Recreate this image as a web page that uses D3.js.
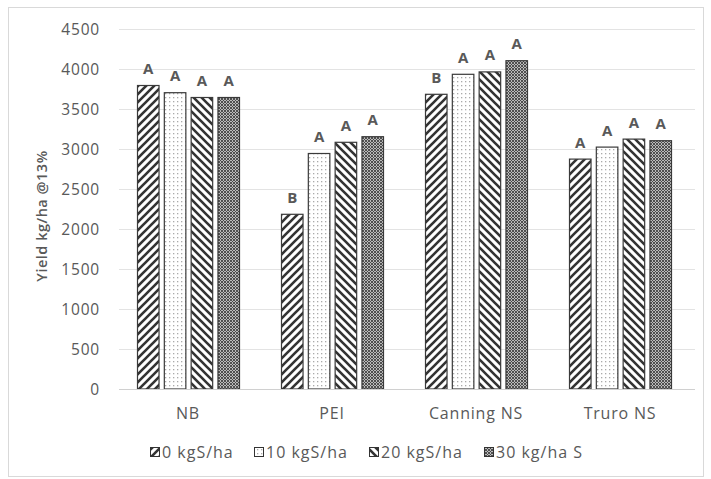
<!DOCTYPE html>
<html><head><meta charset="utf-8">
<script src="https://cdn.jsdelivr.net/npm/d3@7"></script>
<style>body{margin:0;background:#fff;}svg{display:block;}</style>
</head><body>
<svg id="c" width="711" height="479"></svg>
<script>
const categories = ["NB", "PEI", "Canning NS", "Truro NS"];
const seriesNames = ["0 kgS/ha", "10 kgS/ha", "20 kgS/ha", "30 kg/ha S"];
const s0 = [3800, 2190, 3690, 2880];
const s1 = [3710, 2950, 3940, 3030];
const s2 = [3650, 3090, 3970, 3130];
const s3 = [3650, 3160, 4110, 3110];
const letters0 = ["A", "B", "B", "A"];
const letters1 = ["A", "A", "A", "A"];
const letters2 = ["A", "A", "A", "A"];
const letters3 = ["A", "A", "A", "A"];
const yTicks = [0, 500, 1000, 1500, 2000, 2500, 3000, 3500, 4000, 4500];

const series = [s0, s1, s2, s3];
const letters = [letters0, letters1, letters2, letters3];

const svg = d3.select("#c");
const font = "'Open Sans', Lato, sans-serif";
const grey = "#595959";

// border
svg.append("rect").attr("x", 8.5).attr("y", 7.5).attr("width", 695).attr("height", 469)
  .attr("fill", "#fff").attr("stroke", "#d9d9d9");

// patterns
const defs = svg.append("defs");
function pat(id, size, build, bg) {
  const p = defs.append("pattern").attr("id", id).attr("patternUnits", "userSpaceOnUse")
    .attr("width", size).attr("height", size);
  p.append("rect").attr("width", size).attr("height", size).attr("fill", bg || "#fff");
  build(p);
}
pat("p0", 8, p => {
  p.append("path").attr("d", "M-2,2 L2,-2 M0,8 L8,0 M6,10 L10,6").attr("stroke", "#333").attr("stroke-width", 2.6);
});
pat("p1", 4, p => {
  p.append("rect").attr("x", 1).attr("y", 1).attr("width", 1.3).attr("height", 1.3).attr("fill", "#aaa");
}, "#fff");
pat("p2", 8, p => {
  p.append("path").attr("d", "M-2,6 L2,10 M0,0 L8,8 M6,-2 L10,2").attr("stroke", "#333").attr("stroke-width", 2.6);
});
pat("p3", 3, p => {
  p.append("path").attr("d", "M0,0 L3,3 M3,0 L0,3").attr("stroke", "#444").attr("stroke-width", 0.9);
}, "#bbb");

const x = d3.scaleBand().domain(categories).range([116, 692]);
const xs = d3.scaleBand().domain(d3.range(4)).range([21, 124]).paddingInner(0.16);
const y = d3.scaleLinear().domain([0, 4500]).range([389, 29]);

// gridlines
svg.append("g").selectAll("line").data(yTicks.slice(1)).join("line")
  .attr("x1", 119).attr("x2", 695).attr("y1", d => Math.round(y(d)) + 0.5).attr("y2", d => Math.round(y(d)) + 0.5)
  .attr("stroke", "#e3e3e3").attr("stroke-width", 1.2);

// y axis labels
const yAxis = d3.axisLeft(y).tickValues(yTicks).tickFormat(d3.format("d")).tickSize(0).tickPadding(0);
const ya = svg.append("g").attr("transform", "translate(100,0)").call(yAxis);
ya.select(".domain").remove();
ya.selectAll("text").attr("font-family", font).attr("font-size", 15.5).attr("letter-spacing", 0.8)
  .attr("fill", grey).attr("dy", "0.35em");

// bars
const g = svg.append("g");
series.forEach((vals, si) => {
  g.selectAll(".b" + si).data(categories).join("rect")
    .attr("x", c => x(c) + xs(si) + 0.5)
    .attr("y", (c, i) => y(vals[i]) + 0.5)
    .attr("width", xs.bandwidth() - 1)
    .attr("height", (c, i) => y(0) - y(vals[i]) - 0.5)
    .attr("fill", "url(#p" + si + ")")
    .attr("stroke", "#3a3a3a").attr("stroke-width", 1.2);
  g.selectAll(".l" + si).data(categories).join("text")
    .attr("x", c => x(c) + xs(si) + xs.bandwidth() / 2)
    .attr("y", (c, i) => y(vals[i]) - 11)
    .attr("text-anchor", "middle")
    .attr("font-family", font).attr("font-size", 15).attr("font-weight", "bold").attr("fill", grey)
    .text((c, i) => letters[si][i]);
});

// baseline
svg.append("line").attr("x1", 119).attr("x2", 695).attr("y1", 389.5).attr("y2", 389.5)
  .attr("stroke", "#d0d0d0").attr("stroke-width", 1.2);

// x axis labels
const xAxis = d3.axisBottom(x).tickSize(0).tickPadding(0);
const xa = svg.append("g").attr("transform", "translate(0,408)").call(xAxis);
xa.select(".domain").remove();
xa.selectAll("text").attr("font-family", font).attr("font-size", 16).attr("letter-spacing", 0.8)
  .attr("fill", grey).attr("dy", "0.71em");

// y title
svg.append("text").attr("transform", "translate(47,216) rotate(-90)")
  .attr("text-anchor", "middle").attr("font-family", font).attr("font-size", 14.5).attr("font-weight", 600)
  .attr("letter-spacing", 0.5).attr("fill", grey).text("Yield kg/ha @13%");

// legend
const legX = [150, 254, 369, 484];
const lg = svg.append("g");
seriesNames.forEach((n, i) => {
  lg.append("rect").attr("x", legX[i] + 0.5).attr("y", 447.5).attr("width", 9).attr("height", 9)
    .attr("fill", "url(#p" + i + ")").attr("stroke", "#333").attr("stroke-width", 1);
  lg.append("text").attr("x", legX[i] + 12).attr("y", 458).attr("font-family", font).attr("font-size", 16)
    .attr("letter-spacing", 1).attr("fill", grey).text(n);
});
</script>
</body></html>
